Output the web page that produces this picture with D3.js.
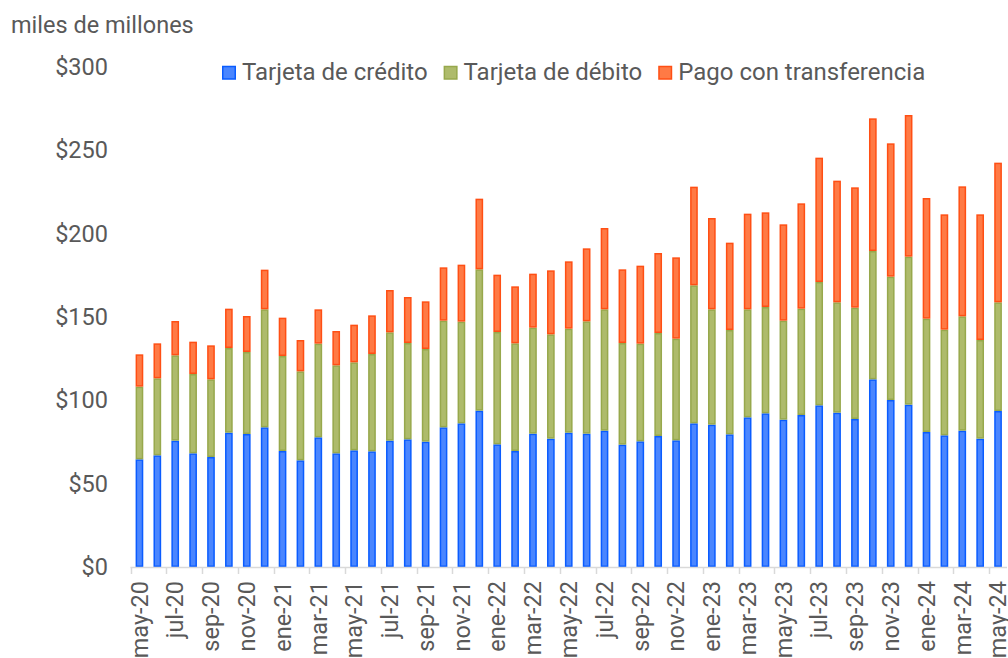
<!DOCTYPE html>
<html lang="es">
<head>
<meta charset="UTF-8">
<title>Pagos</title>
<script src="https://cdn.jsdelivr.net/npm/d3@7"></script>
<style>
  body { margin: 0; background: #fff; }
  text { font-family: Roboto, "Noto Sans", sans-serif; fill: #595959; }
</style>
</head>
<body>
<script>
    // months may-20 .. may-24
    var monthNames = ["may","jun","jul","ago","sep","oct","nov","dic","ene","feb","mar","abr"];
    var months = [];
    for (var i = 0; i < 49; i++) {
        var yy = 20 + Math.floor((i + 4) / 12);
        months.push(monthNames[i % 12] + "-" + yy);
    }

    var credito = [64.6, 67.0, 75.8, 68.2, 66.0, 80.6, 79.8, 83.8, 69.6, 64.0, 77.8, 68.2, 70.0, 69.4, 75.8, 76.6,
        75.2, 83.8, 86.2, 93.8, 73.6, 69.6, 80.0, 77.0, 80.6, 80.0, 81.8, 73.4, 75.4, 78.6, 76.0, 86.2,
        85.4, 79.6, 89.8, 92.2, 88.4, 91.2, 97.0, 92.6, 88.8, 112.6, 100.2, 97.4, 81.0, 79.0, 81.8, 77.0, 93.6];
    var debito = [43.6, 46.2, 51.2, 47.6, 46.6, 50.8, 49.2, 70.8, 57.0, 53.4, 56.2, 52.8, 52.8, 58.4, 65.0, 57.8,
        55.6, 64.0, 61.0, 84.8, 67.4, 64.6, 63.6, 62.6, 62.4, 67.4, 72.8, 61.0, 58.6, 61.8, 61.0, 82.8,
        69.2, 62.6, 64.8, 63.8, 59.4, 63.8, 74.0, 66.2, 66.8, 77.0, 74.0, 88.8, 68.0, 63.4, 68.6, 59.2, 65.2];
    var transferencia = [19.4, 21.0, 20.6, 19.4, 20.4, 23.6, 21.6, 23.8, 23.0, 18.8, 20.6, 20.6, 22.6, 23.2, 25.4, 27.6,
        28.6, 32.0, 34.2, 42.4, 34.4, 34.2, 32.4, 38.4, 40.4, 43.8, 48.8, 44.2, 46.8, 48.0, 48.8, 59.2,
        54.8, 52.4, 57.4, 56.8, 57.8, 63.2, 74.6, 73.0, 72.2, 79.6, 80.0, 85.0, 72.4, 69.2, 78.0, 75.4, 83.8];

    var seriesNames = ["Tarjeta de crédito", "Tarjeta de débito", "Pago con transferencia"];
    var yTicks = [0, 50, 100, 150, 200, 250, 300];

    var fills = ["#4a86ff", "#aebb6b", "#ff7a45"];
    var strokes = ["#0a5cff", "#97a84c", "#ff4f14"];

    var width = 1008, height = 658;
    var plotL = 130.5, plotR = 1007, plotT = 67, plotB = 567;
    var fontSize = "23.5px";

    var svg = d3.select("body").append("svg")
        .attr("width", width)
        .attr("height", height);

    var rows = months.map(function (m, i) {
        return { month: m, c: credito[i], d: debito[i], t: transferencia[i] };
    });
    var stack = d3.stack().keys(["c", "d", "t"])(rows);

    var x = d3.scaleBand()
        .domain(months)
        .range([plotL, plotR])
        .paddingInner(0.57)
        .paddingOuter(0.285);

    var y = d3.scaleLinear()
        .domain([0, 300])
        .range([plotB, plotT]);

    // unit label
    svg.append("text")
        .attr("x", 11)
        .attr("y", 33)
        .style("font-size", fontSize)
        .text("miles de millones");

    // y axis
    var gY = svg.append("g")
        .attr("transform", "translate(108,0)")
        .call(d3.axisLeft(y).tickValues(yTicks).tickSize(0).tickPadding(0)
            .tickFormat(function (d) { return "$" + d; }));
    gY.select(".domain").remove();
    gY.selectAll("text")
        .attr("fill", null)
        .style("font-size", fontSize)
        .style("font-family", "Roboto, sans-serif");

    // bars
    svg.append("g").selectAll("g")
        .data(stack)
        .enter().append("g")
        .attr("fill", function (d, i) { return fills[i]; })
        .attr("stroke", function (d, i) { return strokes[i]; })
        .selectAll("rect")
        .data(function (d) { return d; })
        .enter().append("rect")
        .attr("x", function (d) { return x(d.data.month) + 0.75; })
        .attr("width", x.bandwidth() - 1.5)
        .attr("y", function (d) { return y(d[1]) + 0.75; })
        .attr("height", function (d) { return Math.max(0, y(d[0]) - y(d[1]) - 1.5); })
        .attr("stroke-width", 1.5);

    // x axis
    var gX = svg.append("g");
    gX.append("line")
        .attr("x1", plotL).attr("x2", plotR)
        .attr("y1", plotB + 0.5).attr("y2", plotB + 0.5)
        .attr("stroke", "#d9d9d9").attr("stroke-width", 1.5);

    var step = x.step();
    var shown = months.filter(function (m, i) { return i % 2 === 0; });

    gX.selectAll(".tick")
        .data(shown)
        .enter().append("line")
        .attr("class", "tick")
        .attr("x1", function (m) { return Math.round(plotL + months.indexOf(m) * step) + 0.5; })
        .attr("x2", function (m) { return Math.round(plotL + months.indexOf(m) * step) + 0.5; })
        .attr("y1", plotB).attr("y2", plotB + 7)
        .attr("stroke", "#d9d9d9").attr("stroke-width", 1.5);

    gX.selectAll(".lbl")
        .data(shown)
        .enter().append("text")
        .attr("class", "lbl")
        .attr("transform", function (m) {
            return "translate(" + (x(m) + x.bandwidth() / 2) + "," + 581 + ") rotate(-90)";
        })
        .attr("text-anchor", "end")
        .attr("dy", "0.35em")
        .style("font-size", fontSize)
        .text(function (m) { return m; });

    // legend
    var legend = svg.append("g");
    var lx = 222;
    seriesNames.forEach(function (name, i) {
        legend.append("rect")
            .attr("x", lx + 0.75).attr("y", 66.5)
            .attr("width", 12.5).attr("height", 12.5)
            .attr("fill", fills[i])
            .attr("stroke", strokes[i])
            .attr("stroke-width", 1.5);
        var t = legend.append("text")
            .attr("x", lx + 20)
            .attr("y", 80)
            .style("font-size", "24px")
            .text(name);
        lx = lx + 20 + t.node().getComputedTextLength() + 16;
    });
</script>
</body>
</html>
